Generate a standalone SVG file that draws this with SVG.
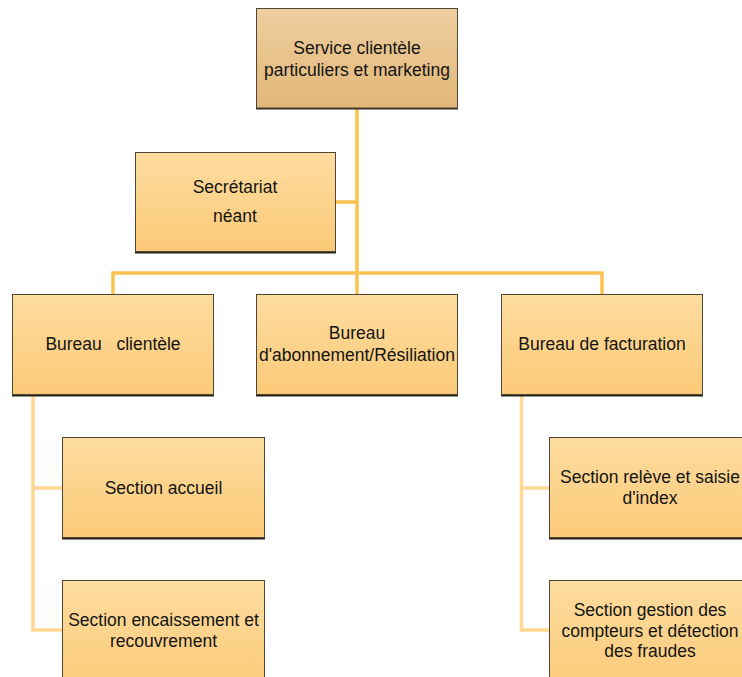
<svg xmlns="http://www.w3.org/2000/svg" width="742" height="677" viewBox="0 0 742 677">
  <defs>
    <linearGradient id="gTop" x1="0" y1="0" x2="0" y2="1">
      <stop offset="0" stop-color="#EDCF9F"/>
      <stop offset="1" stop-color="#E2B677"/>
    </linearGradient>
    <linearGradient id="gBox" x1="0" y1="0" x2="0" y2="1">
      <stop offset="0" stop-color="#FDDC9F"/>
      <stop offset="1" stop-color="#FBCA78"/>
    </linearGradient>
    <style>
      .box { stroke: #4F4636; stroke-width: 1; }
      .shadow { fill: #2B2418; }
      .lbl { font-family: "Liberation Sans", Arial, sans-serif; font-size: 17.5px; fill: #141414; text-anchor: middle; white-space: pre; }
      .main { fill: none; stroke: #FAC34F; stroke-width: 3.5; }
      .sub { fill: none; stroke: #FFD892; stroke-width: 3.5; }
    </style>
  </defs>
  <rect width="742" height="677" fill="#FFFFFF"/>

  <!-- connectors -->
  <g id="connectors">
    <path class="main" d="M357 108 V273"/>
    <path class="main" d="M336 202 H357"/>
    <path class="main" d="M113 294 V273 H602 V294"/>
    <path class="main" d="M357 273 V294"/>
    <path class="sub" d="M33 395 V630 H62 M33 488 H62"/>
    <path class="sub" d="M521.5 395 V630 H549 M521.5 488 H549"/>
  </g>

  <!-- head of department -->
  <g id="n-service">
    <rect class="shadow" x="256" y="107" width="202" height="2.5"/>
    <rect class="box" x="256.5" y="8.5" width="201" height="99.5" fill="url(#gTop)"/>
    <text class="lbl" x="357" y="54">Service clientèle</text>
    <text class="lbl" x="357" y="76">particuliers et marketing</text>
  </g>

  <g id="n-secretariat">
    <rect class="shadow" x="135" y="251" width="201" height="2.5"/>
    <rect class="box" x="135.5" y="152.5" width="200" height="99" fill="url(#gBox)"/>
    <text class="lbl" x="235" y="193">Secrétariat</text>
    <text class="lbl" x="235" y="222">néant</text>
  </g>

  <g id="n-bureau-clientele">
    <rect class="shadow" x="12" y="394" width="202" height="2.5"/>
    <rect class="box" x="12.5" y="294.5" width="201" height="100" fill="url(#gBox)"/>
    <text class="lbl" x="113" y="350">Bureau   clientèle</text>
  </g>

  <g id="n-bureau-abonnement">
    <rect class="shadow" x="256" y="394" width="202" height="2.5"/>
    <rect class="box" x="256.5" y="294.5" width="201" height="100" fill="url(#gBox)"/>
    <text class="lbl" x="357" y="339">Bureau</text>
    <text class="lbl" x="357" y="361">d'abonnement/Résiliation</text>
  </g>

  <g id="n-bureau-facturation">
    <rect class="shadow" x="501" y="394" width="202" height="2.5"/>
    <rect class="box" x="501.5" y="294.5" width="201" height="100" fill="url(#gBox)"/>
    <text class="lbl" x="602" y="350">Bureau de facturation</text>
  </g>

  <g id="n-section-accueil">
    <rect class="shadow" x="62" y="537" width="203" height="2.5"/>
    <rect class="box" x="62.5" y="437.5" width="202" height="100" fill="url(#gBox)"/>
    <text class="lbl" x="163.5" y="494">Section accueil</text>
  </g>

  <g id="n-section-encaissement">
    <rect class="box" x="62.5" y="580.5" width="202" height="110" fill="url(#gBox)"/>
    <text class="lbl" x="163.5" y="626">Section encaissement et</text>
    <text class="lbl" x="163.5" y="647">recouvrement</text>
  </g>

  <g id="n-section-releve">
    <rect class="shadow" x="549" y="537" width="203" height="2.5"/>
    <rect class="box" x="549.5" y="437.5" width="202" height="100" fill="url(#gBox)"/>
    <text class="lbl" x="650" y="483">Section relève et saisie</text>
    <text class="lbl" x="650" y="504">d'index</text>
  </g>

  <g id="n-section-gestion">
    <rect class="box" x="549.5" y="580.5" width="202" height="110" fill="url(#gBox)"/>
    <text class="lbl" x="650" y="616">Section gestion des</text>
    <text class="lbl" x="650" y="637">compteurs et détection</text>
    <text class="lbl" x="650" y="657">des fraudes</text>
  </g>
</svg>
